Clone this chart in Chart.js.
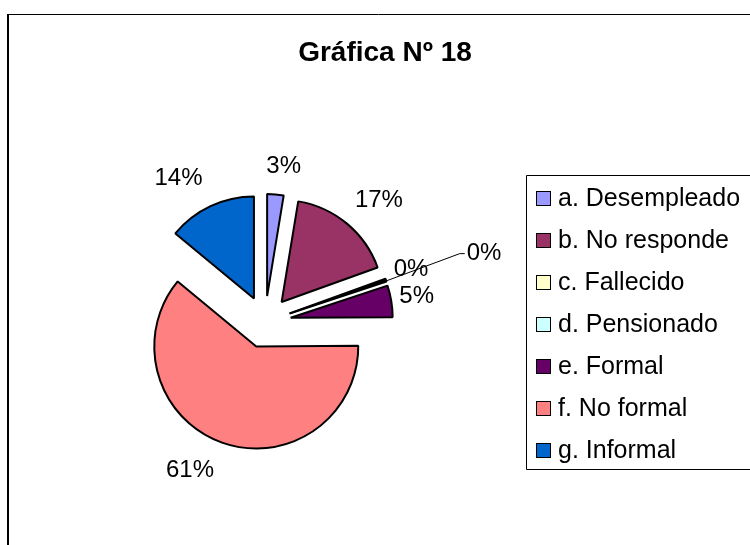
<!DOCTYPE html>
<html>
<head>
<meta charset="utf-8">
<script src="https://cdn.jsdelivr.net/npm/chart.js@4"></script>
<style>
  html, body { margin: 0; padding: 0; background: #fff; }
</style>
</head>
<body>
<canvas id="grafica18" width="750" height="545"></canvas>
<script>
// Data
const categoryLabels = ['a. Desempleado', 'b. No responde', 'c. Fallecido', 'd. Pensionado', 'e. Formal', 'f. No formal', 'g. Informal'];
const percentValues = [2.6, 16.9, 0.2, 0.2, 5.0, 61.1, 14.0];
const sliceColors = ['#9999FF', '#993366', '#FFFFCC', '#CCFFFF', '#660066', '#FF8080', '#0066CC'];
const chartTitle = 'Gráfica Nº 18';

// Look
const FONT = '"Liberation Sans", Arial, sans-serif';
const EXPLODE = 26;
const LEADER_INDEX = 3;

// every slice is pulled out of the pie by the same distance
const explodePlugin = {
    id: 'explode',
    beforeDatasetsDraw(chart) {
        let area = chart.chartArea;
        let cx = (area.left + area.right) / 2;
        let cy = (area.top + area.bottom) / 2;
        chart.getDatasetMeta(0).data.forEach(function(arc) {
            let mid = (arc.startAngle + arc.endAngle) / 2;
            arc.x = cx + EXPLODE * Math.cos(mid);
            arc.y = cy + EXPLODE * Math.sin(mid);
        });
    }
};

// percent labels outside the slices (Excel "best fit" look)
const percentLabelPlugin = {
    id: 'percentLabels',
    afterDatasetsDraw(chart) {
        let ctx = chart.ctx;
        let total = percentValues.reduce((s, v) => s + v, 0);
        ctx.save();
        ctx.font = '24px ' + FONT;
        ctx.textAlign = 'center';
        ctx.textBaseline = 'middle';
        ctx.fillStyle = '#000';
        ctx.strokeStyle = '#000';
        ctx.lineWidth = 1;
        chart.getDatasetMeta(0).data.forEach(function(arc, i) {
            let mid = (arc.startAngle + arc.endAngle) / 2;
            let cos = Math.cos(mid), sin = Math.sin(mid);
            let txt = Math.round(percentValues[i] / total * 100) + '%';
            let w = ctx.measureText(txt).width;
            let px = arc.x + arc.outerRadius * cos;
            let py = arc.y + arc.outerRadius * sin;
            let lx, ly;
            if(i == LEADER_INDEX){
                lx = px + cos * 85 + w / 2;
                ly = py + sin * 85;
                ctx.beginPath();
                ctx.moveTo(px, py);
                ctx.lineTo(lx - w / 2 - 7, ly);
                ctx.lineTo(lx - w / 2 - 2, ly);
                ctx.stroke();
            }
            else{
                lx = px + Math.sign(cos) * Math.min(Math.abs(cos) * 4, 1) * (w / 2 + 8);
                ly = py + Math.sign(sin) * Math.min(Math.abs(sin) * 1.1, 1) * 28;
            }
            ctx.fillText(txt, lx, ly);
        });
        ctx.restore();
    }
};

// outer frame, title and boxed legend like the Excel original
const framePlugin = {
    id: 'frame',
    afterDraw(chart) {
        let ctx = chart.ctx;
        ctx.save();
        ctx.strokeStyle = '#000';
        ctx.lineWidth = 2;
        ctx.beginPath();
        ctx.moveTo(8, 545);
        ctx.lineTo(8, 14.5);
        ctx.stroke();
        ctx.lineWidth = 1;
        ctx.beginPath();
        ctx.moveTo(7, 14.5);
        ctx.lineTo(750, 14.5);
        ctx.stroke();

        ctx.fillStyle = '#000';
        ctx.font = 'bold 28px ' + FONT;
        ctx.textAlign = 'center';
        ctx.textBaseline = 'middle';
        ctx.fillText(chartTitle, 385, 53);

        // legend box
        ctx.beginPath();
        ctx.moveTo(751, 175.5);
        ctx.lineTo(526.5, 175.5);
        ctx.lineTo(526.5, 469.5);
        ctx.lineTo(751, 469.5);
        ctx.stroke();

        ctx.font = '25px ' + FONT;
        ctx.textAlign = 'left';
        let colors = chart.data.datasets[0].backgroundColor;
        chart.data.labels.forEach(function(label, i) {
            let y = 198 + i * 42;
            ctx.fillStyle = colors[i];
            ctx.fillRect(536, y - 7, 14, 14);
            ctx.strokeRect(536.5, y - 6.5, 14, 14);
            ctx.fillStyle = '#000';
            ctx.fillText(label, 558, y + 1);
        });
        ctx.restore();
    }
};

let ctxGrafica = document.getElementById('grafica18');
new Chart(ctxGrafica, {
    type: 'pie',
    data: {
        labels: categoryLabels,
        datasets: [
            {
                data: percentValues,
                backgroundColor: sliceColors,
                borderColor: '#000',
                borderWidth: 2
            }
        ]
    },
    options: {
        responsive: false,
        animation: false,
        devicePixelRatio: 1,
        radius: 102,
        layout: {
            padding: { left: 20, right: 240, top: 150, bottom: 51 }
        },
        plugins: {
            legend: { display: false },
            title: { display: false },
            tooltip: { enabled: false }
        },
        events: []
    },
    plugins: [explodePlugin, percentLabelPlugin, framePlugin]
});
</script>
</body>
</html>
